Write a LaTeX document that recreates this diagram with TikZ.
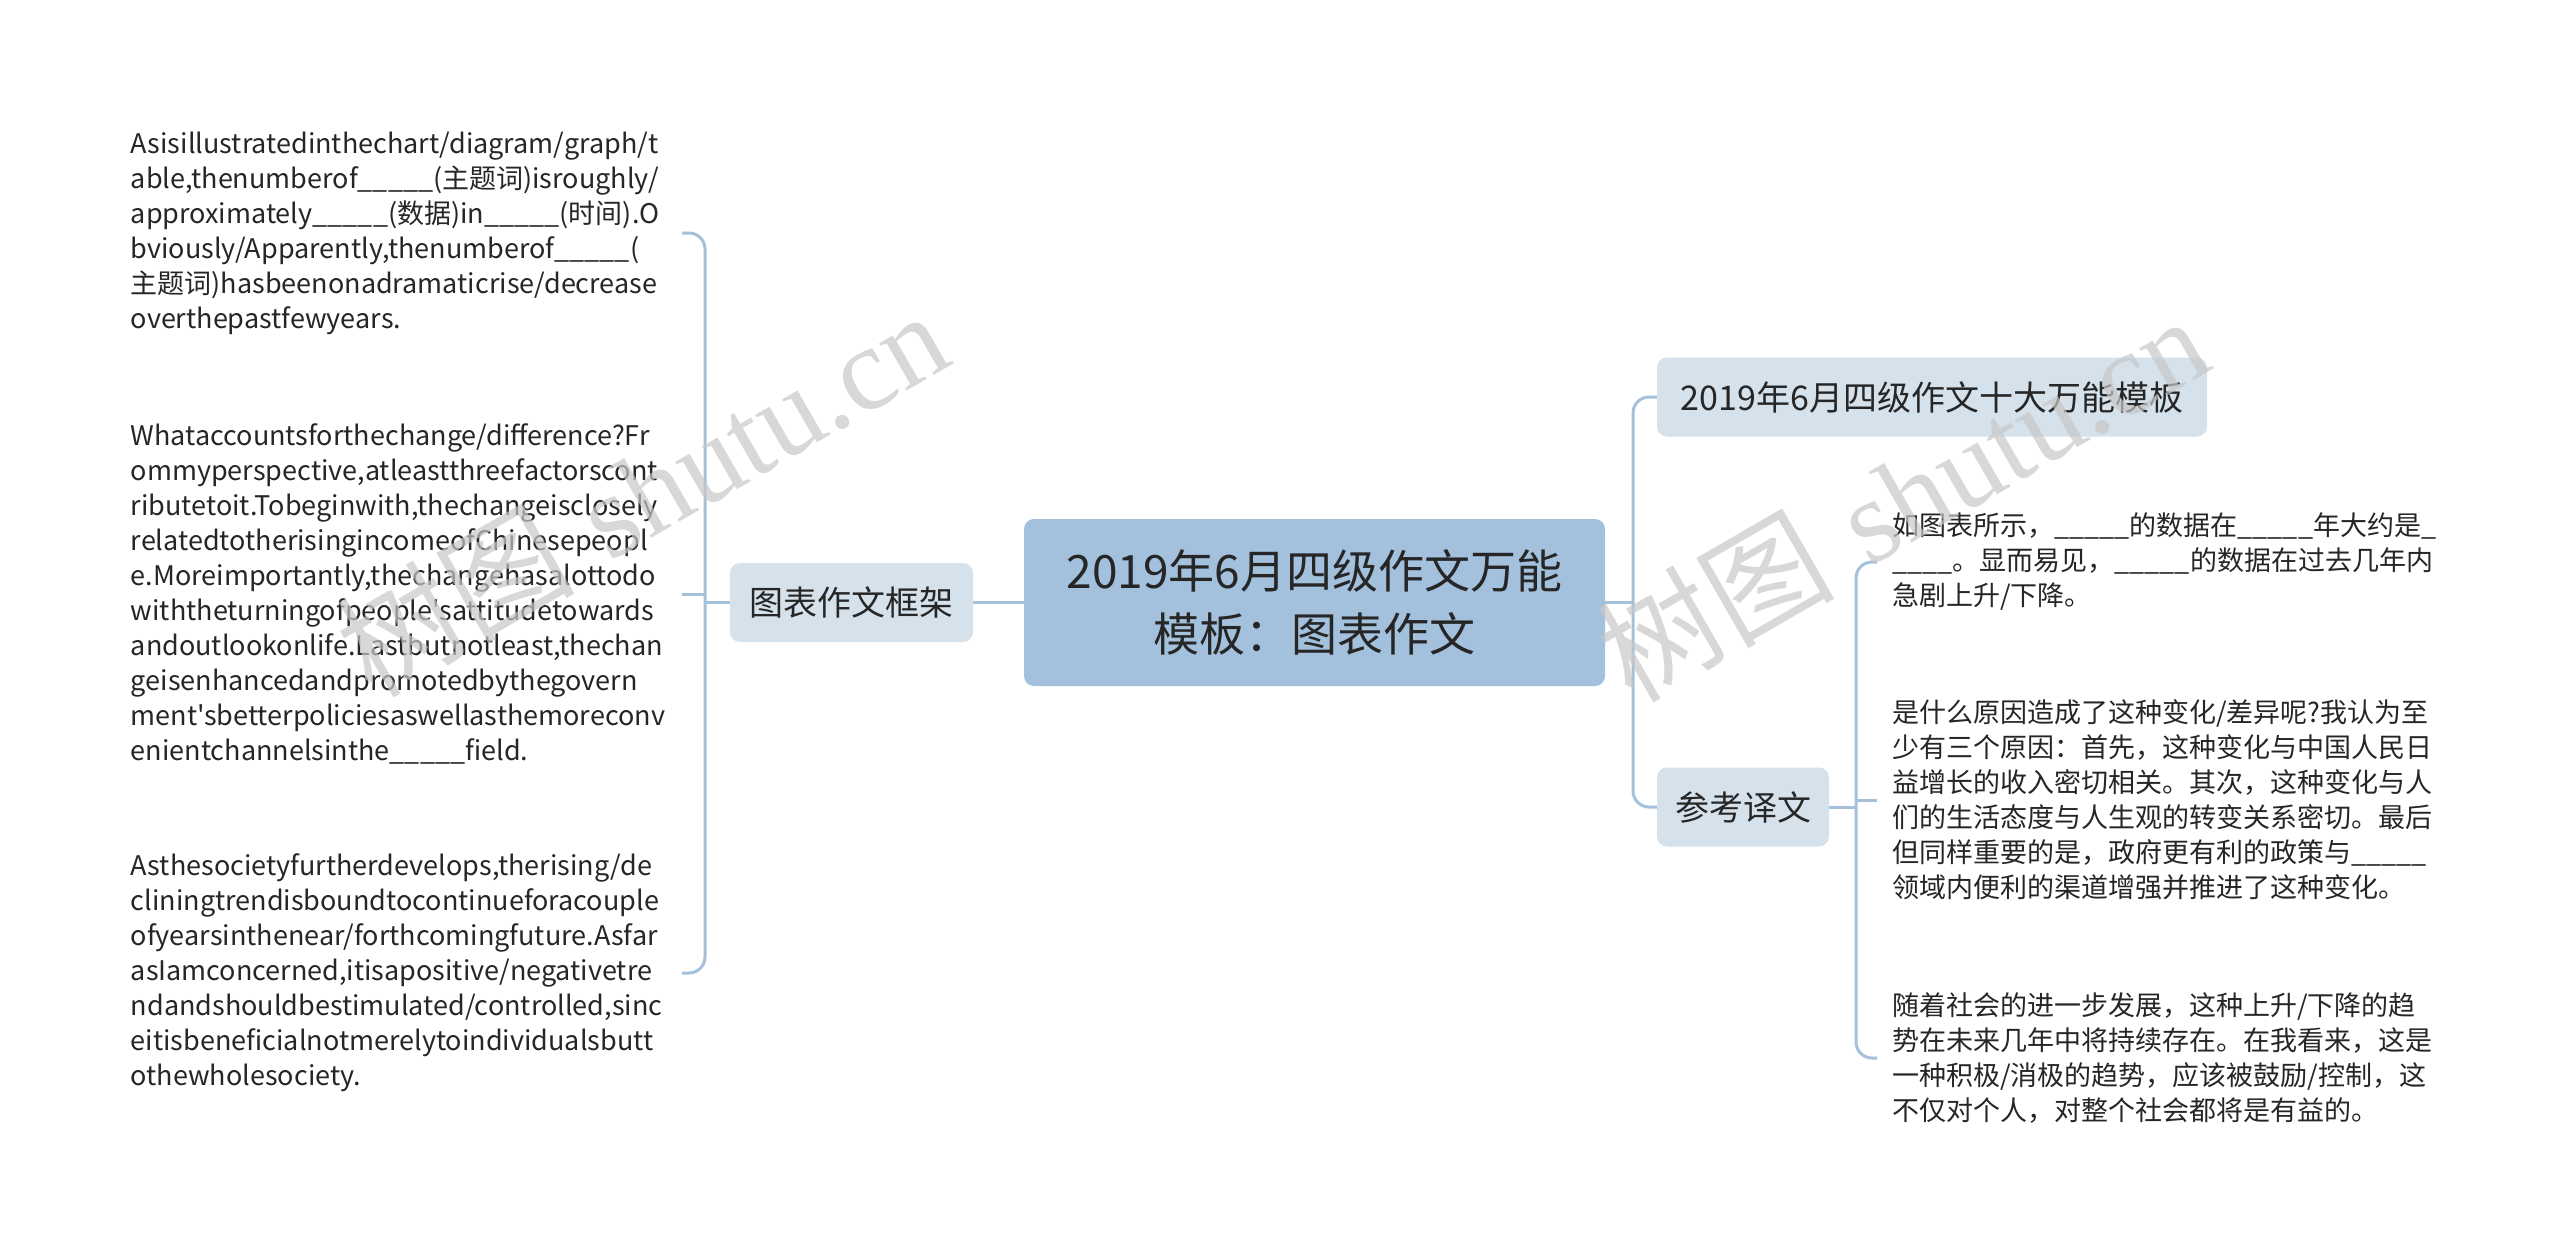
\documentclass[tikz,border=0pt]{standalone}
\usepackage{fontspec}
\newfontfamily\cjk{Noto Sans CJK SC}
\newfontfamily\wmserif{Liberation Serif}
\definecolor{mainfill}{HTML}{A3C0DD}
\definecolor{subfill}{HTML}{D5E1EB}
\definecolor{conncol}{HTML}{A5C0DA}
\definecolor{txt}{HTML}{262626}
\definecolor{wmcol}{HTML}{C8C8C8}
\newcommand\blk{\_\_\_\_\_}
\tikzset{
  rootbox/.style={fill=mainfill, rounded corners=10pt, minimum width=581pt, minimum height=167pt,
    align=center, font=\cjk\fontsize{46}{63}\selectfont, text=txt, inner sep=0pt},
  subbox/.style={fill=subfill, rounded corners=10pt, minimum height=79pt,
    align=center, font=\cjk\fontsize{34}{40}\selectfont, text=txt, inner sep=0pt},
  leafL/.style={anchor=east, text width=551pt, inner sep=0pt, align=left,
    font=\cjk\fontsize{27}{35}\selectfont, text=txt},
  leafR/.style={anchor=west, text width=570pt, inner xsep=15pt, inner ysep=0pt, align=left,
    font=\cjk\fontsize{27}{35}\selectfont, text=txt},
  conn/.style={draw=conncol, line width=3pt},
  wmark/.style={text=wmcol, opacity=0.7, font=\fontsize{119}{119}\selectfont, inner sep=0pt}
}
\begin{document}
\begin{tikzpicture}[x=1pt,y=-1pt]
\fill[white] (0,0) rectangle (2560,1255);
\useasboundingbox (0,0) rectangle (2560,1255);

% main nodes
\node[rootbox] (root) at (1314.5,602.5) {2019年6月四级作文万能\\模板：图表作文};
\node[subbox, minimum width=243pt] (frame) at (851.5,602.5) {图表作文框架};
\node[subbox, minimum width=550pt] (ten) at (1932,397) {2019年6月四级作文十大万能模板};
\node[subbox, minimum width=172pt] (ref) at (1743,807) {参考译文};

% left leaves
\node[leafL] (L1) at (682,233) {Asisillustratedinthechart/diagram/graph/t\\
able,thenumberof\blk(主题词)isroughly/\\
approximately\blk(数据)in\blk(时间).O\\
bviously/Apparently,thenumberof\blk(\\
主题词)hasbeenonadramaticrise/decrease\\
overthepastfewyears.};
\node[leafL] (L2) at (682,594) {Whataccountsforthechange/difference?Fr\\
ommyperspective,atleastthreefactorscont\\
ributetoit.Tobeginwith,thechangeisclosely\\
relatedtotherisingincomeofChinesepeopl\\
e.Moreimportantly,thechangehasalottodo\\
withtheturningofpeople'sattitudetowards\\
andoutlookonlife.Lastbutnotleast,thechan\\
geisenhancedandpromotedbythegovern\\
ment'sbetterpoliciesaswellasthemoreconv\\
enientchannelsinthe\blk field.};
\node[leafL] (L3) at (682,973) {Asthesocietyfurtherdevelops,therising/de\\
cliningtrendisboundtocontinueforacouple\\
ofyearsinthenear/forthcomingfuture.Asfar\\
asIamconcerned,itisapositive/negativetre\\
ndandshouldbestimulated/controlled,sinc\\
eitisbeneficialnotmerelytoindividualsbutt\\
othewholesociety.};

% right leaves
\node[leafR] (T1) at (1877,562) {如图表所示，\blk 的数据在\blk 年大约是\_\\
\_\_\_\_。显而易见，\blk 的数据在过去几年内\\
急剧上升/下降。};
\node[leafR] (T2) at (1877,800) {是什么原因造成了这种变化/差异呢?我认为至\\
少有三个原因：首先，这种变化与中国人民日\\
益增长的收入密切相关。其次，这种变化与人\\
们的生活态度与人生观的转变关系密切。最后\\
但同样重要的是，政府更有利的政策与\blk\\
领域内便利的渠道增强并推进了这种变化。};
\node[leafR] (T3) at (1877,1058) {随着社会的进一步发展，这种上升/下降的趋\\
势在未来几年中将持续存在。在我看来，这是\\
一种积极/消极的趋势，应该被鼓励/控制，这\\
不仅对个人，对整个社会都将是有益的。};

% junctions
\coordinate (lj) at (705,602.5);
\coordinate (rj) at (1633,602.5);
\coordinate (sj) at (1856,807);

% connectors
\draw[conn] (root.west) -- (frame.east);
\draw[conn] (frame.west) -- (lj);
\draw[conn, rounded corners=16pt] (L1.east) -| (lj) |- (L3.east);
\draw[conn] (L2.east) -- (lj |- L2.east);
\draw[conn] (root.east) -- (rj);
\draw[conn, rounded corners=16pt] (ten.west) -| (rj) |- (ref.west);
\draw[conn] (ref.east) -- (sj);
\draw[conn, rounded corners=16pt] (T1.west) -| (sj) |- (T3.west);
\draw[conn] (T2.west) -- (sj |- T2.west);

% watermarks
\node[wmark, anchor=base west, rotate=30] (wm1) at (372,700) {{\cjk 树图} {\wmserif shutu.cn}};
\node[wmark, anchor=base west, rotate=30] (wm2) at (1632,705) {{\cjk 树图} {\wmserif shutu.cn}};
\end{tikzpicture}
\end{document}
